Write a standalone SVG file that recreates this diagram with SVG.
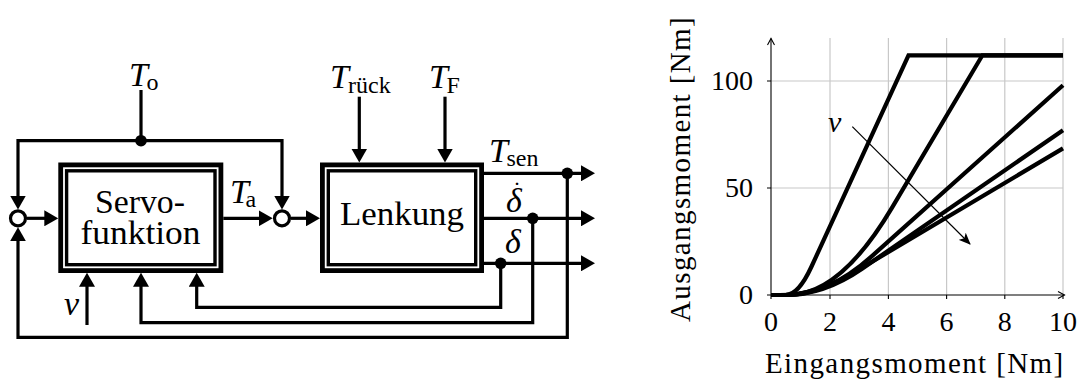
<svg xmlns="http://www.w3.org/2000/svg" width="1080" height="381" viewBox="0 0 1080 381">
<style>
text{font-family:"Liberation Serif","Times New Roman",serif;fill:#000}
.it{font-style:italic}
.lbl{font-size:34px}
.sub{font-size:24px;font-style:normal}
.tick{font-size:28px}
.axl{font-size:29px;letter-spacing:1.4px}
.ln{fill:none;stroke:#000;stroke-width:3.2;stroke-linejoin:miter;stroke-linecap:butt}
.arr{marker-end:url(#ah)}
.sum{fill:#fff;stroke:#000;stroke-width:3.2}
.boxo{fill:#fff;stroke:#000;stroke-width:10}
.boxi{fill:none;stroke:#fff;stroke-width:1.8}
.grid{stroke:#c8c8c8;stroke-width:1.2;fill:none}
.axis{stroke:#000;stroke-width:1.1;fill:none}
.curve{fill:none;stroke:#000;stroke-width:4.2;stroke-linejoin:miter}
</style>
<defs>
<marker id="ah" markerUnits="userSpaceOnUse" markerWidth="14" markerHeight="16" viewBox="0 0 14 16" refX="8" refY="8" orient="auto"><path d="M0,0 L14,8 L0,16 z" fill="#000"/></marker>
<marker id="ax" markerUnits="userSpaceOnUse" markerWidth="9" markerHeight="9" viewBox="0 0 9 9" refX="7.5" refY="4.5" orient="auto"><path d="M1,1 L7.5,4.5 L1,8" fill="none" stroke="#000" stroke-width="1.1"/></marker>
<marker id="va" markerUnits="userSpaceOnUse" markerWidth="12" markerHeight="10" viewBox="0 0 12 10" refX="11" refY="5" orient="auto"><path d="M0,0 L12,5 L0,10 L3,5 z" fill="#000"/></marker>
</defs>

<g id="connectors">
<path class="ln" d="M141,90 V140.7"/>
<path class="ln arr" d="M141,140.7 H18 V203.5"/>
<path class="ln arr" d="M141,140.7 H282 V203.5"/>
<path class="ln arr" d="M27,218.3 H52.3"/>
<path class="ln arr" d="M223.3,218.3 H266.7"/>
<path class="ln arr" d="M291,218.3 H314"/>
<path class="ln arr" d="M359.3,96.7 V156.5"/>
<path class="ln arr" d="M445,96.7 V156.5"/>
<path class="ln arr" d="M484,173.3 H589"/>
<path class="ln arr" d="M484,218.3 H589"/>
<path class="ln arr" d="M484,263.3 H589"/>
<path class="ln arr" d="M500.7,263.3 V307.3 H196.7 V278.7"/>
<path class="ln arr" d="M532.7,218.3 V322.7 H141 V278.7"/>
<path class="ln arr" d="M567.3,173.3 V337.3 H18 V233.3"/>
<path class="ln arr" d="M87,325 V278.7"/>
<circle cx="141" cy="140.7" r="5.8"/>
<circle cx="567.3" cy="173.3" r="5.8"/>
<circle cx="532.7" cy="218.3" r="5.8"/>
<circle cx="500.7" cy="263.3" r="5.8"/>
</g>

<g id="sum1"><circle class="sum" cx="18" cy="218.3" r="7.5"/></g>
<g id="sum2"><circle class="sum" cx="282" cy="218.3" r="7.5"/></g>

<g id="servo">
<rect class="boxo" x="63.3" y="167.5" width="155" height="100.5"/>
<rect class="boxi" x="64" y="168.2" width="153.6" height="99.1"/>
<text class="lbl"><tspan x="95" y="213.3" textLength="90" lengthAdjust="spacingAndGlyphs">Servo-</tspan><tspan x="80.5" y="244.3" textLength="120" lengthAdjust="spacingAndGlyphs">funktion</tspan></text>
</g>

<g id="lenkung">
<rect class="boxo" x="325" y="167.5" width="154" height="100.5"/>
<rect class="boxi" x="325.7" y="168.2" width="152.6" height="99.1"/>
<text class="lbl" x="340" y="225" textLength="124" lengthAdjust="spacingAndGlyphs">Lenkung</text>
</g>

<g id="labels">
<text class="lbl it"><tspan x="129" y="86">T</tspan><tspan class="sub" x="146.5" y="89.5">o</tspan></text>
<text class="lbl it"><tspan x="330" y="88">T</tspan><tspan class="sub" x="348" y="93">rück</tspan></text>
<text class="lbl it"><tspan x="429" y="88">T</tspan><tspan class="sub" x="446.5" y="93">F</tspan></text>
<text class="lbl it"><tspan x="489" y="162">T</tspan><tspan class="sub" x="506.5" y="166">sen</tspan></text>
<text class="lbl it"><tspan x="230" y="202.7">T</tspan><tspan class="sub" x="245.5" y="206.7">a</tspan></text>
<text class="lbl it"><tspan x="506" y="211.7">δ</tspan><tspan class="sub" x="513" y="198">˙</tspan></text>
<text class="lbl it" x="505" y="253.3">δ</text>
<text class="lbl it" x="64" y="315">v</text>
</g>

<g id="chart">
<g class="grid">
<path d="M830,38 V295 M888.4,38 V295 M946.6,38 V295 M1004.8,38 V295 M1063,38 V295"/>
<path d="M771,188 H1063 M771,81 H1063"/>
</g>
<path class="axis" d="M771,295 V38.5" marker-end="url(#ax)"/>
<path class="axis" d="M771,295 H1064.5" marker-end="url(#ax)"/>
<path class="axis" d="M767,188 H771 M767,81 H771 M767,295 H771 M830,295 V299 M888.4,295 V299 M946.6,295 V299 M1004.8,295 V299 M1063,295 V299 M771,295 V299"/>
<text class="tick" x="753" y="90" text-anchor="end">100</text>
<text class="tick" x="753" y="197" text-anchor="end">50</text>
<text class="tick" x="753" y="304" text-anchor="end">0</text>
<text class="tick" x="771" y="331" text-anchor="middle">0</text>
<text class="tick" x="830" y="331" text-anchor="middle">2</text>
<text class="tick" x="888.4" y="331" text-anchor="middle">4</text>
<text class="tick" x="946.6" y="331" text-anchor="middle">6</text>
<text class="tick" x="1004.8" y="331" text-anchor="middle">8</text>
<text class="tick" x="1063" y="331" text-anchor="middle">10</text>
<text class="axl" x="765" y="373">Eingangsmoment [Nm]</text>
<text class="axl" transform="translate(690,322) rotate(-90)" x="0" y="0">Ausgangsmoment [Nm]</text>
<path class="curve" d="M771,295 L785.6,295 Q798.4,295 811.3,267 L908.5,55.3 L1063,55.3"/>
<path class="curve" d="M771,295 L788.5,295 Q840.2,295 891.9,207.9 L982.4,55.3 L1063,55.3"/>
<path class="curve" d="M771,295 L785.6,295 Q828.5,295 871.4,256.6 L1063,85.3"/>
<path class="curve" d="M771,295 L785.6,295 Q823.9,295 862.1,268.7 L1063,130.2"/>
<path class="curve" d="M771,295 L779.8,295 Q816,295 852.2,273.5 L1063,148.4"/>
<path d="M852.3,126.7 L970,244" stroke="#000" stroke-width="1.2" fill="none" marker-end="url(#va)"/>
<text class="it" x="828" y="132" font-size="30">v</text>
</g>
</svg>
